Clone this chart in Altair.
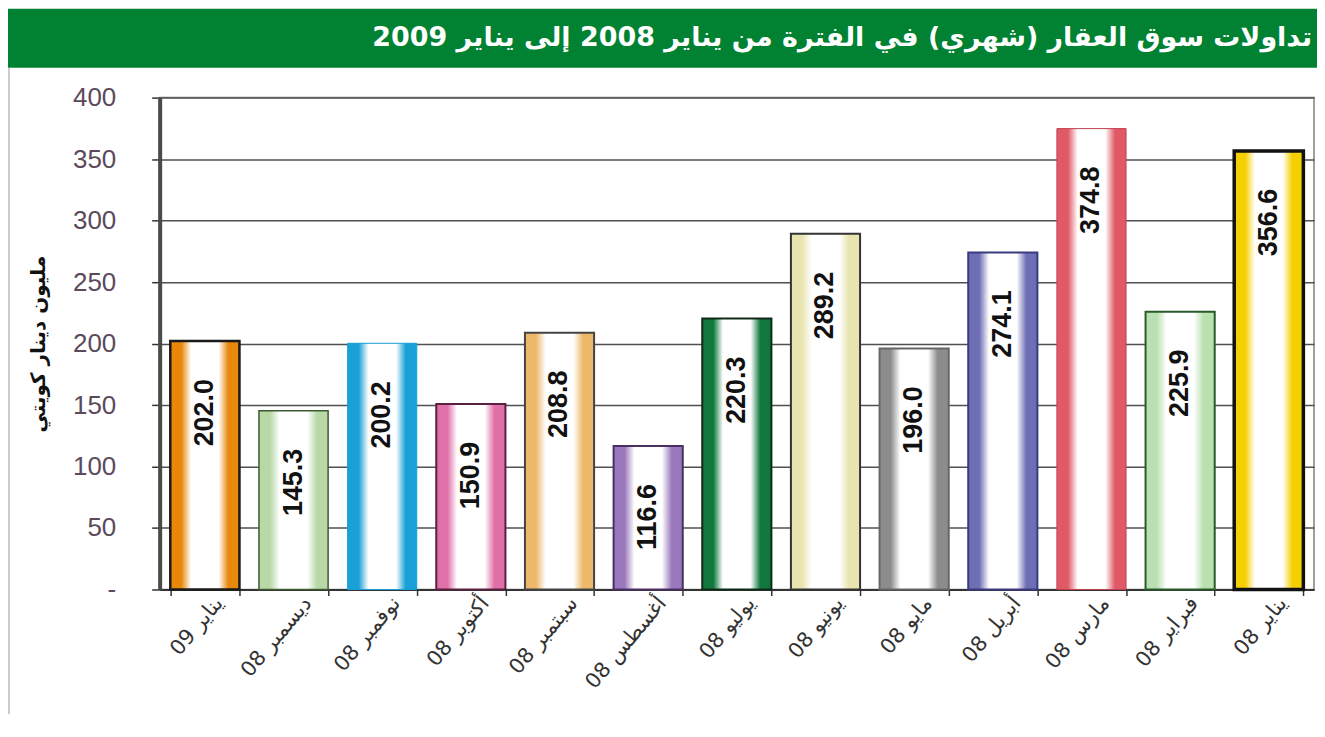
import altair as alt
import pandas as pd

title_text = "تداولات سوق العقار (شهري) في الفترة من يناير 2008 إلى يناير 2009"
y_title = "مليون دينار كويتي"
months = ["يناير 09", "ديسمبر 08", "نوفمبر 08", "أكتوبر 08", "سبتمبر 08", "أغسطس 08",
          "يوليو 08", "يونيو 08", "مايو 08", "أبريل 08", "مارس 08", "فبراير 08", "يناير 08"]
values = [202.0, 145.3, 200.2, 150.9, 208.8, 116.6, 220.3, 289.2, 196.0, 274.1, 374.8, 225.9, 356.6]
y_ticks = [0, 50, 100, 150, 200, 250, 300, 350, 400]

edge_colors = ["#E8870A", "#B8D8A8", "#1AA0D8", "#E070A8", "#EDB86A", "#9A78BC", "#10783C",
               "#E8E4B0", "#8C8C8C", "#6E6EB4", "#E05A66", "#B8E0B0", "#F5D000"]
stroke_colors = ["#1a1a1a", "#3d5a30", "#1AA0D8", "#5a2040", "#444444", "#4a3060", "#102a18",
                 "#333333", "#666666", "#3a3a80", "#C04050", "#2a5a2a", "#111111"]
stroke_widths = [2.5, 1.5, 1, 2, 2, 2, 2, 2, 2, 2, 1, 2, 3.5]

W, H = 1157, 493

df = pd.DataFrame({"month": months, "value": values})

x_enc = alt.X("month:N", sort=months,
              scale=alt.Scale(domain=months, paddingInner=0.22, paddingOuter=0.12),
              axis=alt.Axis(title=None, labelAngle=310, labelAlign="right", labelBaseline="middle",
                            labelFontSize=21, labelColor="#333333", labelFont="DejaVu Sans",
                            labelPadding=4, labelOffset=14, tickBand="extent", tickSize=6,
                            tickColor="#333333", tickWidth=1.5, domainColor="#333333",
                            domainWidth=2, grid=False))
y_enc = alt.Y("value:Q",
              scale=alt.Scale(domain=[0, 400], nice=False),
              axis=alt.Axis(title=y_title, values=y_ticks, titleFontSize=20, titleFontWeight="bold",
                            titleFont="DejaVu Sans", titleColor="#111111", titlePadding=24,
                            labelFontSize=26, labelColor="#5a4a5a", labelFont="Liberation Sans",
                            labelPadding=36, tickSize=8, tickColor="#333333", tickWidth=1.5,
                            domainColor="#4a4a4a", domainWidth=4,
                            gridColor="#505050", gridWidth=1.5,
                            labelExpr="datum.value == 0 ? '-' : datum.label"))


def grad(c):
    return alt.LinearGradient(
        gradient="linear", x1=0, x2=1, y1=0, y2=0,
        stops=[alt.GradientStop(offset=0, color=c), alt.GradientStop(offset=0.16, color=c),
               alt.GradientStop(offset=0.3, color="#ffffff"), alt.GradientStop(offset=0.7, color="#ffffff"),
               alt.GradientStop(offset=0.84, color=c), alt.GradientStop(offset=1, color=c)])


layers = []
for m, c, s, sw in zip(months, edge_colors, stroke_colors, stroke_widths):
    layers.append(
        alt.Chart(df).transform_filter(alt.datum.month == m)
        .mark_bar(color=grad(c), stroke=s, strokeWidth=sw)
        .encode(x=x_enc, y=y_enc)
    )

labels = alt.Chart(df).mark_text(angle=270, align="right", baseline="middle", dx=-38,
                                 fontSize=27, fontWeight="bold", font="Liberation Sans",
                                 color="#111111").encode(
    x=alt.X("month:N", sort=months), y="value:Q", text=alt.Text("value:Q", format=".1f"))

tdf = pd.DataFrame({"t": [title_text]})
band = alt.Chart(tdf).mark_rect(color="#008232").encode(
    x=alt.value(-152), x2=alt.value(1160), y=alt.value(-89), y2=alt.value(-30))
title = alt.Chart(tdf).mark_text(align="right", baseline="middle", color="white", fontSize=27,
                                 fontWeight="bold", font="DejaVu Sans").encode(
    text="t:N", x=alt.value(1155), y=alt.value(-60))
frame = alt.Chart(tdf).mark_rule(color="#9a9a9a", strokeWidth=1).encode(
    x=alt.value(-151), y=alt.value(-30), y2=alt.value(H + 125))

chart = alt.layer(band, title, frame, *layers, labels).properties(
    width=W, height=H, background="white", padding=0
).configure_view(stroke="#808080", strokeWidth=1.5)

chart.save("out.html", embed_options={"renderer": "svg", "actions": False})
